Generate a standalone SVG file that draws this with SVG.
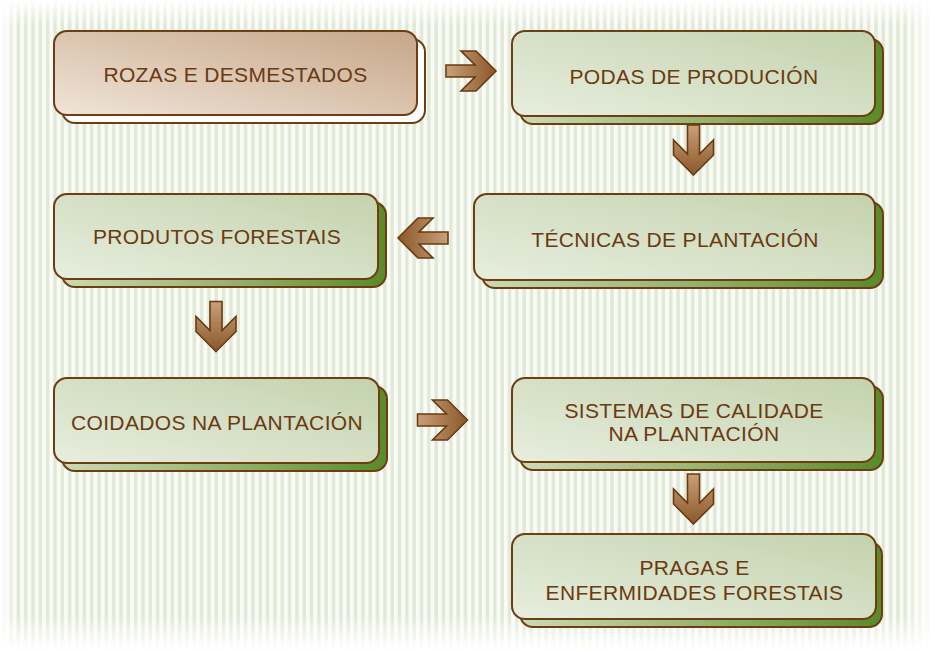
<svg xmlns="http://www.w3.org/2000/svg" xmlns:xlink="http://www.w3.org/1999/xlink" width="933" height="650" viewBox="0 0 933 650">
<defs>
  <pattern id="stripes" x="0" y="0" width="7.33" height="20" patternUnits="userSpaceOnUse">
    <rect x="0" y="0" width="7.33" height="20" fill="#fafbf7"/>
    <rect x="2" y="0" width="3.4" height="20" fill="#e0e9d6"/>
  </pattern>
  <linearGradient id="fadeTop" x1="0" y1="0" x2="0" y2="1">
    <stop offset="0" stop-color="#fff" stop-opacity="1"/>
    <stop offset="1" stop-color="#fff" stop-opacity="0"/>
  </linearGradient>
  <linearGradient id="fadeBottom" x1="0" y1="0" x2="0" y2="1">
    <stop offset="0" stop-color="#fff" stop-opacity="0"/>
    <stop offset="1" stop-color="#fff" stop-opacity="1"/>
  </linearGradient>
  <linearGradient id="fadeLeft" x1="0" y1="0" x2="1" y2="0">
    <stop offset="0" stop-color="#fff" stop-opacity="1"/>
    <stop offset="1" stop-color="#fff" stop-opacity="0"/>
  </linearGradient>
  <linearGradient id="fadeRight" x1="0" y1="0" x2="1" y2="0">
    <stop offset="0" stop-color="#fff" stop-opacity="0"/>
    <stop offset="1" stop-color="#fff" stop-opacity="1"/>
  </linearGradient>
  <linearGradient id="greenFill" x1="0" y1="1" x2="1" y2="0">
    <stop offset="0" stop-color="#e7eede"/>
    <stop offset="1" stop-color="#c3d2ad"/>
  </linearGradient>
  <linearGradient id="greenShadow" x1="0" y1="0" x2="1" y2="0">
    <stop offset="0" stop-color="#cbdab4"/>
    <stop offset="0.5" stop-color="#97b471"/>
    <stop offset="1" stop-color="#5a8a28"/>
  </linearGradient>
  <linearGradient id="tanFill" x1="0" y1="1" x2="1" y2="0">
    <stop offset="0" stop-color="#f0e4d8"/>
    <stop offset="1" stop-color="#c6a688"/>
  </linearGradient>
  <linearGradient id="arrowFill" x1="0" y1="0" x2="1" y2="0">
    <stop offset="0" stop-color="#c9a07a"/>
    <stop offset="1" stop-color="#8a5829"/>
  </linearGradient>
  <path id="arrow" d="M0,0 L-20,-20 L-35,-20 L-21,-6 L-50,-6 L-50,6 L-21,6 L-35,20 L-20,20 Z"/>
  <style>
    .main { fill: url(#greenFill); stroke: #6e3d12; stroke-width: 2; }
    .shadow { fill: url(#greenShadow); stroke: #6e3d12; stroke-width: 2; }
    .tan { fill: url(#tanFill); stroke: #6e3d12; stroke-width: 2; }
    .white { fill: #ffffff; stroke: #6e3d12; stroke-width: 2; }
    .label { font-family: "Liberation Sans", Arial, sans-serif; font-size: 21px; letter-spacing: 0.35px; fill: #6b3a10; text-anchor: middle; }
    .arr { fill: url(#arrowFill); stroke: #6b3a10; stroke-width: 1.6; stroke-linejoin: miter; }
  </style>
</defs>

<!-- background -->
<rect x="0" y="0" width="933" height="650" fill="#ffffff"/>
<rect x="0" y="0" width="933" height="650" fill="url(#stripes)"/>
<rect x="0" y="0" width="933" height="25" fill="url(#fadeTop)"/>
<rect x="0" y="615" width="933" height="35" fill="url(#fadeBottom)"/>
<rect x="0" y="0" width="18" height="650" fill="url(#fadeLeft)"/>
<rect x="905" y="0" width="28" height="650" fill="url(#fadeRight)"/>

<g id="connectors">
  <use xlink:href="#arrow" class="arr" transform="translate(496,71)"/>
  <use xlink:href="#arrow" class="arr" transform="translate(693.5,175) rotate(90)"/>
  <use xlink:href="#arrow" class="arr" transform="translate(398,238) rotate(180)"/>
  <use xlink:href="#arrow" class="arr" transform="translate(216,351.5) rotate(90)"/>
  <use xlink:href="#arrow" class="arr" transform="translate(467.5,420) rotate(0)"/>
  <use xlink:href="#arrow" class="arr" transform="translate(693.5,524) rotate(90)"/>
</g>

<g id="node-rozas">
  <rect class="white" x="62" y="39" width="363" height="84" rx="13"/>
  <rect class="tan" x="54" y="31" width="363" height="84" rx="13"/>
  <text class="label" x="235.5" y="82">ROZAS E DESMESTADOS</text>
</g>

<g id="node-podas">
  <rect class="shadow" x="520" y="39" width="363" height="85" rx="13"/>
  <rect class="main" x="512" y="31" width="363" height="85" rx="13"/>
  <text class="label" x="694" y="84">PODAS DE PRODUCIÓN</text>
</g>

<g id="node-tecnicas">
  <rect class="shadow" x="482" y="202" width="401" height="86" rx="13"/>
  <rect class="main" x="474" y="194" width="401" height="86" rx="13"/>
  <text class="label" x="675" y="247">TÉCNICAS DE PLANTACIÓN</text>
</g>

<g id="node-produtos">
  <rect class="shadow" x="62" y="202" width="324" height="85" rx="13"/>
  <rect class="main" x="54" y="194" width="324" height="85" rx="13"/>
  <text class="label" x="217" y="244">PRODUTOS FORESTAIS</text>
</g>

<g id="node-coidados">
  <rect class="shadow" x="62" y="386" width="325" height="85" rx="13"/>
  <rect class="main" x="54" y="378" width="325" height="85" rx="13"/>
  <text class="label" x="217" y="429.5">COIDADOS NA PLANTACIÓN</text>
</g>

<g id="node-sistemas">
  <rect class="shadow" x="520" y="386" width="363" height="84" rx="13"/>
  <rect class="main" x="512" y="378" width="363" height="84" rx="13"/>
  <text class="label" x="694" y="417.5">SISTEMAS DE CALIDADE</text>
  <text class="label" x="694" y="441">NA PLANTACIÓN</text>
</g>

<g id="node-pragas">
  <rect class="shadow" x="520" y="542" width="362" height="85" rx="13"/>
  <rect class="main" x="512" y="534" width="364" height="85" rx="13"/>
  <text class="label" x="694.5" y="574.5">PRAGAS E</text>
  <text class="label" x="694.5" y="599.5">ENFERMIDADES FORESTAIS</text>
</g>
</svg>
